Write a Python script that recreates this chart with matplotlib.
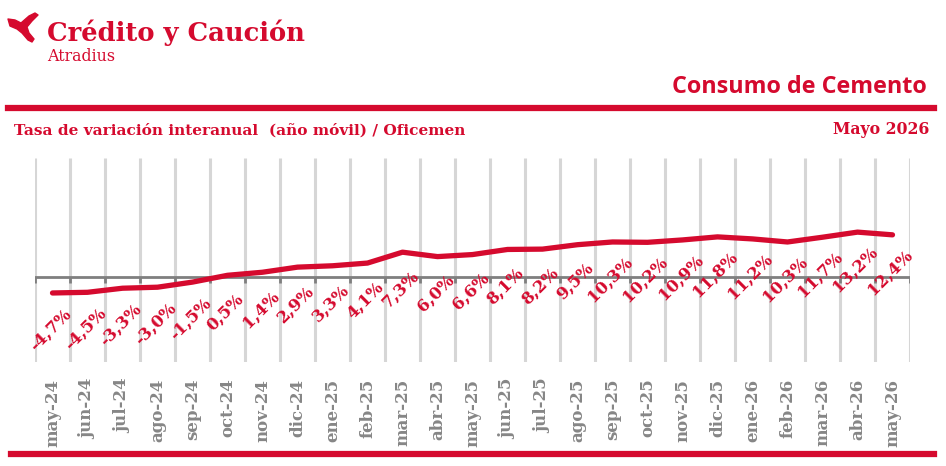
import matplotlib
matplotlib.use("Agg")
import matplotlib.pyplot as plt
from matplotlib.patches import Polygon

months = ["may-24", "jun-24", "jul-24", "ago-24", "sep-24", "oct-24", "nov-24", "dic-24",
          "ene-25", "feb-25", "mar-25", "abr-25", "may-25", "jun-25", "jul-25", "ago-25",
          "sep-25", "oct-25", "nov-25", "dic-25", "ene-26", "feb-26", "mar-26", "abr-26", "may-26"]
values = [-4.7, -4.5, -3.3, -3.0, -1.5, 0.5, 1.4, 2.9, 3.3, 4.1, 7.3, 6.0, 6.6, 8.1,
          8.2, 9.5, 10.3, 10.2, 10.9, 11.8, 11.2, 10.3, 11.7, 13.2, 12.4]

RED = "#d50a2e"
GRAY_TXT = "#868686"
GRID = "#d6d6d6"
AXIS = "#7f7f7f"

W, H = 946, 466
fig = plt.figure(figsize=(W / 100, H / 100), dpi=100)
fig.patch.set_facecolor("white")

def fx(px):
    return px / W

def fy(py):
    return 1 - py / H

ax = fig.add_axes([fx(35), fy(362), fx(910) - fx(35), fy(158) - fy(362)])
n = len(values)
xs = list(range(n))
ax.set_xlim(-0.5, n - 0.5)
ax.set_ylim(-25, 35)
for s in ax.spines.values():
    s.set_visible(False)
ax.set_yticks([])

bounds = [i - 0.5 for i in range(n + 1)]
ax.vlines(bounds, -25, 35, color=GRID, lw=2.2, zorder=1)
ax.axhline(0, color=AXIS, lw=2.0, zorder=2)
ax.vlines(bounds, -1.9, 0, color=AXIS, lw=2.0, zorder=2)

ax.plot(xs, values, color=RED, lw=3.8, solid_capstyle="round", solid_joinstyle="round", zorder=3)

for x, v in zip(xs, values):
    lab = f"{v:.1f}%".replace(".", ",")
    ax.annotate(lab, (x, v), xytext=(-2, -37), textcoords="offset pixels",
                ha="center", va="center", rotation=45, rotation_mode="anchor",
                color=RED, fontsize=12, fontweight="bold", family="DejaVu Serif", zorder=4)

ax.set_xticks(xs)
ax.set_xticklabels(months, rotation=90, color=GRAY_TXT, fontsize=12, fontweight="bold",
                   family="DejaVu Serif")
ax.tick_params(axis="x", length=0, pad=12)

# header
fig.canvas.draw()
renderer = fig.canvas.get_renderer()

def fit_text(x, y, s, width_px, ha="left", va="baseline", **kw):
    size = 12
    t = fig.text(fx(x), fy(y), s, ha=ha, va=va, fontsize=size, **kw)
    w = t.get_window_extent(renderer).width
    t.set_fontsize(size * width_px / w)
    return t

fit_text(47, 41, "Crédito y Caución", 258, color=RED, fontweight="bold", family="DejaVu Serif")
fit_text(47, 61, "Atradius", 68, color=RED, family="DejaVu Serif")
fit_text(927, 93, "Consumo de Cemento", 255, ha="right", color=RED, fontweight="bold", family="Open Sans")
fit_text(14, 135, "Tasa de variación interanual  (año móvil) / Oficemen", 451, color=RED,
         fontweight="bold", family="DejaVu Serif")
fit_text(929, 134, "Mayo 2026", 96, ha="right", color=RED, fontweight="bold", family="DejaVu Serif")

# rules
fig.add_artist(plt.Line2D([fx(8), fx(934)], [fy(108), fy(108)], color=RED, lw=4.5))
fig.add_artist(plt.Line2D([fx(11), fx(934)], [fy(453.5), fy(453.5)], color=RED, lw=4.5))

# logo
logo_px = [(8, 19), (15, 20), (21, 23), (29, 16), (35, 13), (38, 15), (32, 21), (27, 27),
           (29, 33), (34, 39), (32, 42), (28, 40), (22, 33), (17, 29), (10, 26)]
fig.add_artist(Polygon([(fx(a), fy(b)) for a, b in logo_px], closed=True,
                       facecolor=RED, edgecolor=RED, lw=1, joinstyle="round"))

fig.savefig("out.png", dpi=100, facecolor="white")
